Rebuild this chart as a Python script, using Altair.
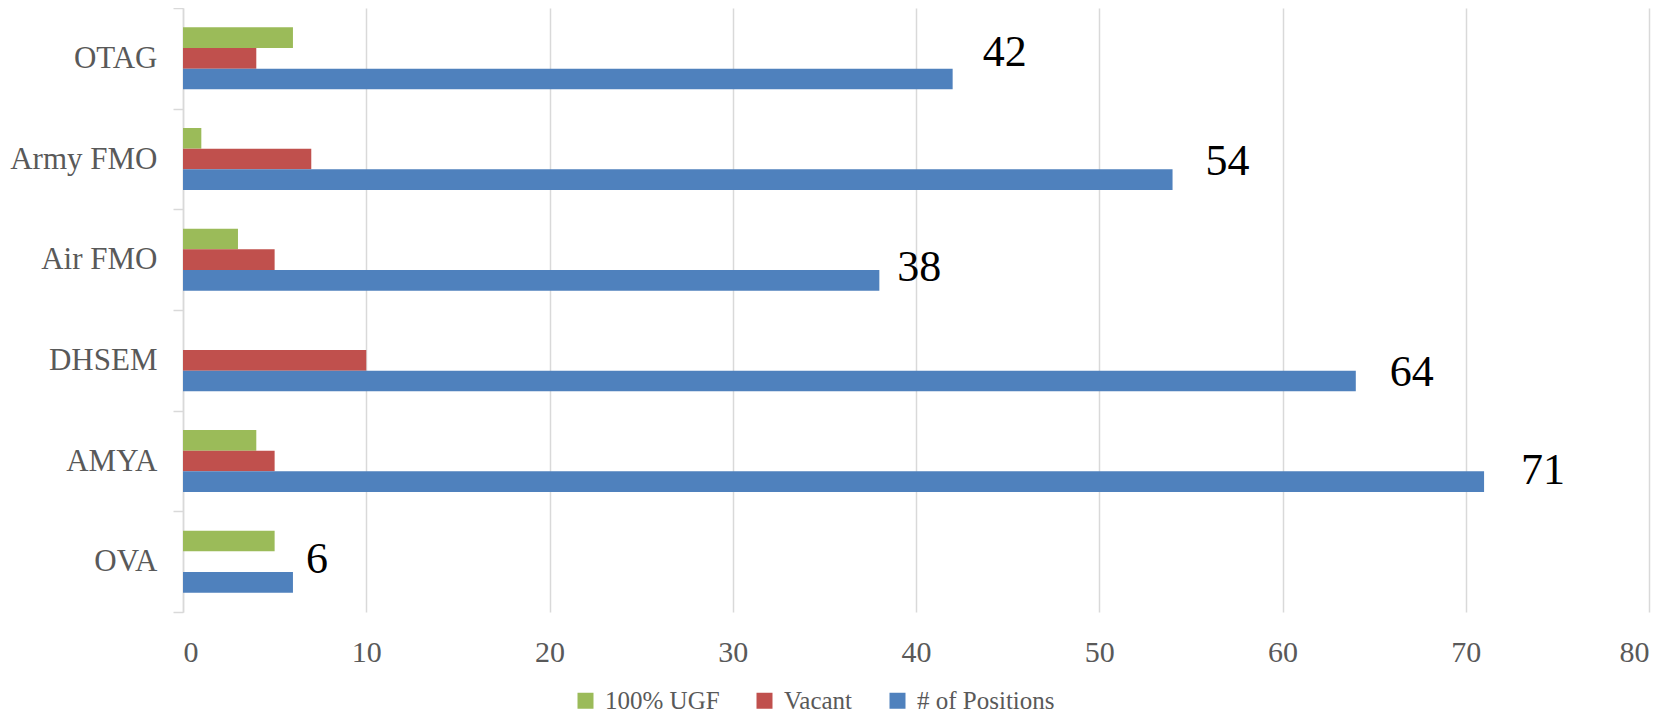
import altair as alt
import pandas as pd

categories = ["OTAG", "Army FMO", "Air FMO", "DHSEM", "AMYA", "OVA"]
ugf = [6, 1, 3, 0, 4, 5]
vacant = [4, 7, 5, 10, 5, 0]
positions = [42, 54, 38, 64, 71, 6]
series = ["100% UGF", "Vacant", "# of Positions"]
colors = ["#9BBB59", "#C0504D", "#4F81BD"]
x_ticks = [0, 10, 20, 30, 40, 50, 60, 70, 80]

rows = []
for i, c in enumerate(categories):
    for s, vals in zip(series, [ugf, vacant, positions]):
        rows.append({"Category": c, "Series": s, "Value": vals[i]})
df = pd.DataFrame(rows)

FONT = "Liberation Serif"
GRID = "#D9D9D9"
LBL = "#595959"

y_enc = alt.Y(
    "Category:N", sort=categories,
    scale=alt.Scale(paddingInner=0, paddingOuter=0),
    axis=alt.Axis(title=None, labelFont=FONT, labelFontSize=31, labelColor=LBL,
                  labelPadding=16, tickBand="extent", tickSize=10, tickColor=GRID,
                  tickWidth=1.5, domainColor=GRID, domainWidth=1.5, grid=False),
)
x_enc = alt.X(
    "Value:Q", scale=alt.Scale(domain=[0, 80]),
    axis=alt.Axis(values=x_ticks, title=None, grid=True, gridColor=GRID, gridWidth=1.5,
                  domain=False, ticks=False, labelFont=FONT, labelFontSize=30,
                  labelColor=LBL, labelPadding=25),
)
yoff = alt.YOffset("Series:N", sort=series,
                   scale=alt.Scale(domain=series, paddingInner=0, paddingOuter=0.935))
color = alt.Color(
    "Series:N", sort=series,
    scale=alt.Scale(domain=series, range=colors),
    legend=alt.Legend(orient="none", legendX=390, legendY=680, direction="horizontal",
                      title=None, symbolType="square", symbolSize=256, symbolStrokeWidth=0,
                      symbolOpacity=1, labelFont=FONT, labelFontSize=25, labelColor=LBL,
                      columnPadding=32, labelOffset=7),
)

base = alt.Chart(df)
bars = base.mark_bar().encode(x=x_enc, y=y_enc, yOffset=yoff, color=color)

# per-label nudges (style only): label left edge offset & vertical offset
nudges = {"OTAG": (30, -26), "Army FMO": (33, -18), "Air FMO": (18, -12),
          "DHSEM": (34, -8), "AMYA": (37, -11), "OVA": (13, -22)}

layers = [bars]
for c in categories:
    dx, dy = nudges[c]
    t = base.transform_filter(
        (alt.datum.Category == c) & (alt.datum.Series == "# of Positions")
    ).mark_text(align="left", baseline="middle", dx=dx, dy=dy, font=FONT,
                fontSize=44, color="black").encode(
        x=x_enc, y=y_enc, yOffset=yoff, text="Value:Q")
    layers.append(t)

chart = alt.layer(*layers).properties(
    width=1466, height=604,
    autosize=alt.AutoSizeParams(type="none"),
    padding={"left": 175, "top": 0, "right": 20, "bottom": 103},
).configure_view(stroke=None)

chart.save("out.html", embed_options={"renderer": "svg", "actions": False})
